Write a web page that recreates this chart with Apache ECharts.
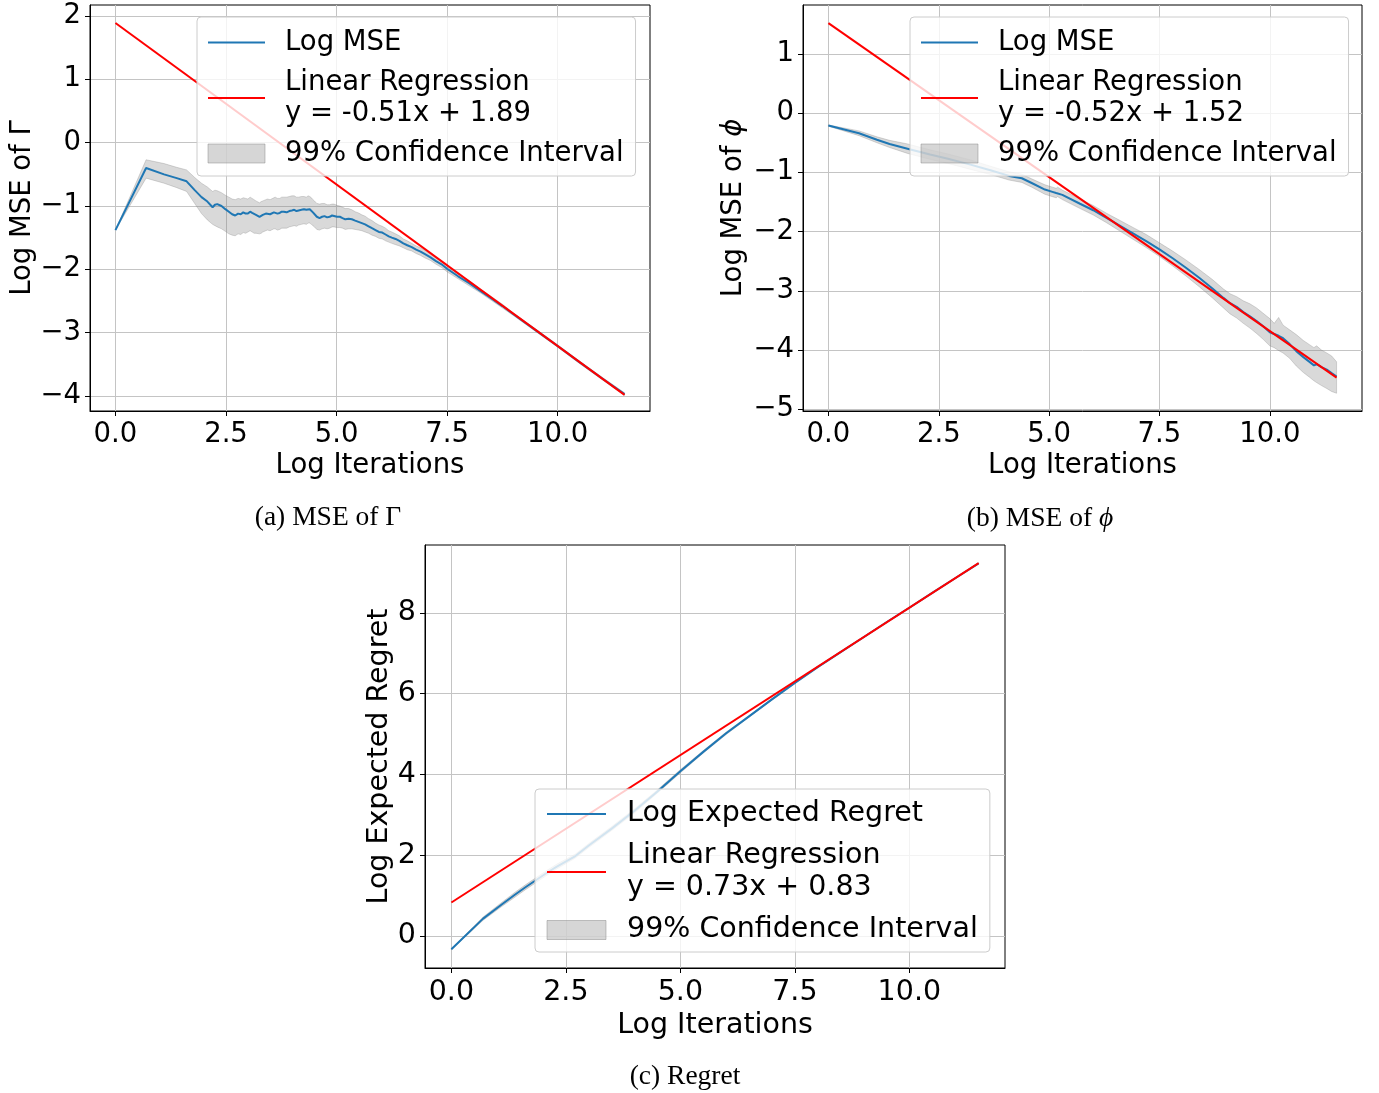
<!DOCTYPE html>
<html>
<head>
<meta charset="utf-8">
<script src="https://cdn.jsdelivr.net/npm/echarts@6/dist/echarts.min.js"></script>
<style>
html,body{margin:0;padding:0;background:#fff;}
#chart{width:1379px;height:1093px;}
</style>
</head>
<body>
<div id="chart"></div>
<script>
// ---------- DATA ----------
const xTicks = [0, 2.5, 5, 7.5, 10];
const yTicksA = [-4, -3, -2, -1, 0, 1, 2];
const yTicksB = [-5, -4, -3, -2, -1, 0, 1];
const yTicksC = [0, 2, 4, 6, 8];

// (a) MSE of Gamma
const gammaX = [0.000,0.693,1.099,1.386,1.609,1.792,1.946,2.079,2.197,2.250,2.303,2.398,2.485,2.565,2.639,2.708,2.773,2.833,2.890,2.944,2.996,3.045,3.091,3.135,3.178,3.258,3.296,3.332,3.401,3.434,3.497,3.526,3.584,3.611,3.664,3.714,3.761,3.807,3.871,3.932,3.989,4.043,4.094,4.143,4.205,4.263,4.317,4.357,4.394,4.431,4.466,4.500,4.554,4.615,4.673,4.727,4.787,4.844,4.898,4.942,5.011,5.075,5.136,5.198,5.273,5.347,5.421,5.497,5.572,5.645,5.724,5.802,5.881,5.958,6.034,6.109,6.180,6.250,6.335,6.420,6.510,6.600,6.700,6.800,6.900,7.000,7.125,7.250,7.375,7.500,7.750,8.000,8.250,8.500,8.750,9.000,9.500,10.000,10.500,11.000,11.513];
const gammaMean = [-1.38,-0.40,-0.50,-0.56,-0.61,-0.75,-0.86,-0.93,-1.02,-0.98,-0.97,-1.00,-1.05,-1.09,-1.13,-1.15,-1.12,-1.13,-1.10,-1.12,-1.12,-1.09,-1.11,-1.13,-1.14,-1.17,-1.15,-1.14,-1.12,-1.11,-1.13,-1.12,-1.10,-1.10,-1.12,-1.11,-1.09,-1.09,-1.10,-1.08,-1.07,-1.06,-1.08,-1.07,-1.06,-1.05,-1.06,-1.04,-1.05,-1.06,-1.10,-1.12,-1.17,-1.19,-1.17,-1.16,-1.18,-1.17,-1.15,-1.15,-1.17,-1.17,-1.19,-1.21,-1.20,-1.21,-1.23,-1.25,-1.27,-1.29,-1.32,-1.35,-1.38,-1.41,-1.42,-1.45,-1.48,-1.50,-1.52,-1.55,-1.59,-1.62,-1.65,-1.69,-1.72,-1.76,-1.81,-1.87,-1.92,-1.99,-2.11,-2.22,-2.34,-2.46,-2.58,-2.71,-2.96,-3.21,-3.47,-3.72,-3.97];
const gammaLo = [-1.38,-0.56,-0.64,-0.71,-0.77,-0.96,-1.12,-1.22,-1.29,-1.31,-1.33,-1.36,-1.40,-1.44,-1.46,-1.47,-1.44,-1.45,-1.42,-1.43,-1.41,-1.39,-1.41,-1.43,-1.43,-1.44,-1.43,-1.41,-1.39,-1.38,-1.39,-1.38,-1.36,-1.36,-1.38,-1.37,-1.35,-1.35,-1.35,-1.33,-1.32,-1.31,-1.32,-1.30,-1.29,-1.28,-1.29,-1.27,-1.27,-1.29,-1.31,-1.33,-1.37,-1.38,-1.36,-1.35,-1.36,-1.35,-1.33,-1.33,-1.34,-1.34,-1.35,-1.37,-1.36,-1.36,-1.37,-1.38,-1.39,-1.41,-1.43,-1.46,-1.48,-1.51,-1.52,-1.55,-1.57,-1.59,-1.61,-1.63,-1.66,-1.69,-1.71,-1.75,-1.78,-1.82,-1.86,-1.92,-1.97,-2.04,-2.15,-2.26,-2.37,-2.49,-2.61,-2.73,-2.98,-3.23,-3.49,-3.74,-3.99];
const gammaHi = [-1.38,-0.27,-0.33,-0.39,-0.43,-0.55,-0.64,-0.70,-0.77,-0.75,-0.76,-0.79,-0.83,-0.86,-0.89,-0.90,-0.88,-0.89,-0.87,-0.88,-0.89,-0.86,-0.88,-0.90,-0.92,-0.95,-0.93,-0.92,-0.90,-0.89,-0.90,-0.89,-0.87,-0.86,-0.88,-0.88,-0.86,-0.86,-0.86,-0.85,-0.84,-0.84,-0.86,-0.86,-0.85,-0.85,-0.86,-0.84,-0.85,-0.87,-0.90,-0.92,-0.96,-0.97,-0.96,-0.96,-0.98,-0.98,-0.97,-0.97,-0.99,-1.00,-1.02,-1.04,-1.04,-1.06,-1.09,-1.11,-1.14,-1.16,-1.20,-1.23,-1.27,-1.30,-1.32,-1.35,-1.39,-1.41,-1.44,-1.47,-1.52,-1.55,-1.59,-1.63,-1.66,-1.70,-1.76,-1.82,-1.87,-1.94,-2.07,-2.18,-2.31,-2.43,-2.55,-2.69,-2.94,-3.19,-3.45,-3.70,-3.95];

// (b) MSE of phi
const phiX = [0.000,0.693,1.099,1.386,1.792,2.303,2.708,3.219,3.689,4.094,4.382,4.605,4.905,5.075,5.160,5.193,5.300,5.700,6.000,6.300,6.600,6.900,7.200,7.500,7.800,8.100,8.400,8.700,8.950,9.100,9.250,9.400,9.550,9.700,9.850,10.000,10.100,10.200,10.300,10.450,10.600,10.760,10.900,11.000,11.060,11.170,11.290,11.400,11.513];
const phiMean = [-0.21,-0.34,-0.45,-0.52,-0.60,-0.70,-0.77,-0.87,-0.97,-1.06,-1.10,-1.18,-1.29,-1.33,-1.35,-1.33,-1.38,-1.53,-1.64,-1.77,-1.90,-2.03,-2.16,-2.30,-2.45,-2.61,-2.78,-2.96,-3.12,-3.21,-3.27,-3.36,-3.43,-3.51,-3.60,-3.70,-3.73,-3.76,-3.80,-3.90,-4.02,-4.12,-4.20,-4.26,-4.24,-4.29,-4.33,-4.39,-4.45];
const phiLo = [-0.22,-0.38,-0.50,-0.58,-0.68,-0.78,-0.85,-0.95,-1.04,-1.13,-1.17,-1.25,-1.37,-1.41,-1.43,-1.41,-1.46,-1.61,-1.72,-1.85,-1.99,-2.13,-2.27,-2.42,-2.58,-2.75,-2.93,-3.12,-3.29,-3.39,-3.46,-3.55,-3.63,-3.72,-3.82,-3.93,-3.96,-4.01,-4.05,-4.14,-4.27,-4.38,-4.46,-4.52,-4.55,-4.60,-4.65,-4.70,-4.73];
const phiHi = [-0.20,-0.30,-0.40,-0.46,-0.52,-0.62,-0.69,-0.79,-0.90,-0.99,-1.03,-1.11,-1.21,-1.25,-1.27,-1.25,-1.30,-1.45,-1.56,-1.69,-1.81,-1.93,-2.05,-2.19,-2.33,-2.48,-2.64,-2.81,-2.97,-3.05,-3.10,-3.17,-3.22,-3.29,-3.38,-3.47,-3.55,-3.45,-3.58,-3.66,-3.74,-3.84,-3.91,-3.96,-3.93,-4.00,-4.05,-4.10,-4.20];

// (c) Regret
const regretX = [0.000,0.693,1.099,1.386,1.609,2.079,2.303,2.708,3.000,3.500,4.000,4.500,5.000,5.500,6.000,6.500,7.000,7.500,8.000,8.500,9.000,9.500,10.000,10.500,11.000,11.513];
const regretMean = [-0.33,0.43,0.78,1.02,1.20,1.56,1.72,1.98,2.24,2.66,3.10,3.58,4.08,4.56,5.02,5.44,5.86,6.27,6.66,7.03,7.40,7.77,8.13,8.50,8.86,9.23];
const regretLo = [-0.34,0.39,0.73,0.96,1.14,1.50,1.66,1.93,2.19,2.61,3.05,3.54,4.04,4.53,4.99,5.42,5.84,6.25,6.65,7.02,7.39,7.76,8.12,8.49,8.85,9.22];
const regretHi = [-0.32,0.47,0.83,1.08,1.26,1.62,1.78,2.03,2.29,2.71,3.15,3.62,4.12,4.59,5.05,5.46,5.88,6.29,6.67,7.04,7.41,7.78,8.14,8.51,8.87,9.24];

// Linear regressions (slope, intercept) as printed in legends
const regSlopes = [-0.51, -0.52, 0.73];
const regIntercepts = [1.89, 1.52, 0.83];
const regXRange = [0, 11.513];
const regLabels = ['Linear Regression\ny = -0.51x + 1.89', 'Linear Regression\ny = -0.52x + 1.52', 'Linear Regression\ny = 0.73x + 0.83'];

// ---------- STYLE ----------
const FONT = '"DejaVu Sans", sans-serif';
const SERIF = '"Liberation Serif", serif';
const BLUE = '#1f77b4', RED = '#ff0000';
const BAND_FILL = 'rgba(128,128,128,0.3)', BAND_EDGE = 'rgba(128,128,128,0.3)';
const GRIDC = '#c4c4c4';
const X_MIN = -0.5757, X_MAX = 12.0887;

function fmtY(v){ return v < 0 ? '\u2212' + Math.abs(v) : String(v); }

function xAxisDef(gi, fs, gap){
  return {
    type:'value', gridIndex:gi, min:X_MIN, max:X_MAX,
    name:'Log Iterations', nameLocation:'middle', nameGap:gap,
    nameTextStyle:{fontSize:fs, fontFamily:FONT, color:'#000'},
    axisLine:{show:true, onZero:false, lineStyle:{color:'#000', width:1}},
    axisTick:{show:true, inside:false, length:5, customValues:xTicks, lineStyle:{color:'#000', width:1}},
    axisLabel:{show:true, customValues:xTicks, margin:10, fontSize:fs, fontFamily:FONT, color:'#000', formatter:v=>v.toFixed(1)},
    splitLine:{show:true, lineStyle:{color:GRIDC, width:1}}
  };
}
function yAxisDef(gi, mn, mx, ticks, name, gap, fs, rich){
  return {
    type:'value', gridIndex:gi, min:mn, max:mx,
    name:name, nameLocation:'middle', nameGap:gap, nameRotate:90,
    nameTextStyle:{fontSize:fs, fontFamily:FONT, color:'#000', rich:rich||{}},
    axisLine:{show:true, onZero:false, lineStyle:{color:'#000', width:1}},
    axisTick:{show:true, inside:false, length:5, customValues:ticks, lineStyle:{color:'#000', width:1}},
    axisLabel:{show:true, customValues:ticks, margin:9, fontSize:fs, fontFamily:FONT, color:'#000', formatter:fmtY},
    splitLine:{show:true, lineStyle:{color:GRIDC, width:1}}
  };
}
function bandSeries(xs, lo, hi, idx){
  return {
    type:'custom', name:'99% Confidence Interval', xAxisIndex:idx, yAxisIndex:idx, z:1, silent:true, clip:true,
    itemStyle:{color:BAND_FILL},
    data: xs.map((x,i)=>[x, lo[i], hi[i]]),
    encode:{x:0, y:[1,2]},
    renderItem:function(params, api){
      if (params.dataIndex !== 0) return null;
      const pts = [];
      for (let i=0;i<xs.length;i++) pts.push(api.coord([xs[i], hi[i]]));
      for (let i=xs.length-1;i>=0;i--) pts.push(api.coord([xs[i], lo[i]]));
      return {type:'polygon', shape:{points:pts}, style:{fill:BAND_FILL, stroke:BAND_EDGE, lineWidth:1}};
    }
  };
}
function meanSeries(name, xs, ys, idx){
  return {type:'line', name:name, xAxisIndex:idx, yAxisIndex:idx, z:2, symbol:'none', showSymbol:false,
    lineStyle:{color:BLUE, width:2}, itemStyle:{color:BLUE}, data: xs.map((x,i)=>[x, ys[i]])};
}
function regSeries(idx){
  const m = regSlopes[idx], b = regIntercepts[idx];
  return {type:'line', name:regLabels[idx], xAxisIndex:idx, yAxisIndex:idx, z:3, symbol:'none', showSymbol:false,
    lineStyle:{color:RED, width:2}, itemStyle:{color:RED},
    data: regXRange.map(x=>[x, m*x + b])};
}
const HIDE_SYMBOL = {color:'rgba(0,0,0,0)', borderColor:'rgba(0,0,0,0)', borderWidth:0};
function legendDef(left, top, firstName, idx, fs, lh, gap, pad, iw, tpad){
  return {
    orient:'vertical', left:left, top:top, z:10, selectedMode:false,
    itemWidth:iw, itemHeight:19, itemGap:gap, padding:pad,
    backgroundColor:'rgba(255,255,255,0.8)', borderColor:'#cccccc', borderWidth:1, borderRadius:4,
    textStyle:{fontSize:fs, fontFamily:FONT, color:'#000', lineHeight:lh, padding:[0,0,0,tpad]},
    data:[
      {name:firstName, itemStyle:HIDE_SYMBOL},
      {name:regLabels[idx], itemStyle:HIDE_SYMBOL},
      {name:'99% Confidence Interval', icon:'rect', itemStyle:{color:'rgba(128,128,128,0.32)', borderColor:'rgba(128,128,128,0.45)', borderWidth:1}}
    ]
  };
}

const chart = echarts.init(document.getElementById('chart'), null, {renderer:'canvas'});
chart.setOption({
  animation:false,
  backgroundColor:'#ffffff',
  grid:[
    {left:90, top:5, width:560, height:406, show:true, borderColor:'#000', borderWidth:1, containLabel:false},
    {left:803, top:5, width:559, height:406, show:true, borderColor:'#000', borderWidth:1, containLabel:false},
    {left:425, top:545, width:580, height:423, show:true, borderColor:'#000', borderWidth:1, containLabel:false}
  ],
  xAxis:[xAxisDef(0, 27.5, 41), xAxisDef(1, 27.5, 41), xAxisDef(2, 28.5, 43)],
  yAxis:[
    yAxisDef(0, -4.237, 2.174, yTicksA, 'Log MSE of Γ', 53, 27.5),
    yAxisDef(1, -5.03, 1.826, yTicksB, 'Log MSE of {i|ϕ}', 55, 27.5, {i:{fontStyle:'italic', fontSize:27.5, fontFamily:FONT, color:'#000'}}),
    yAxisDef(2, -0.793, 9.684, yTicksC, 'Log Expected Regret', 28, 28.5)
  ],
  legend:[
    legendDef(197, 17, 'Log MSE', 0, 27.5, 31, 9, [10,12,7,10], 57, 15),
    legendDef(910, 17, 'Log MSE', 1, 27.5, 31, 9, [10,12,7,10], 57, 15),
    legendDef(535, 789, 'Log Expected Regret', 2, 28.5, 32, 10, [9,12,6,11], 59, 16)
  ],
  series:[
    bandSeries(gammaX, gammaLo, gammaHi, 0),
    meanSeries('Log MSE', gammaX, gammaMean, 0),
    regSeries(0),
    bandSeries(phiX, phiLo, phiHi, 1),
    meanSeries('Log MSE', phiX, phiMean, 1),
    regSeries(1),
    bandSeries(regretX, regretLo, regretHi, 2),
    meanSeries('Log Expected Regret', regretX, regretMean, 2),
    regSeries(2)
  ],
  graphic:[
    {type:'text', x:328, y:518, style:{text:'(a) MSE of Γ', fontSize:27.5, fontFamily:SERIF, fill:'#000', align:'center', verticalAlign:'middle'}},
    {type:'text', x:1040, y:519, style:{text:'(b) MSE of {i|ϕ}', fontSize:27.5, fontFamily:SERIF, fill:'#000', align:'center', verticalAlign:'middle',
      rich:{i:{fontStyle:'italic', fontSize:27.5, fontFamily:SERIF, fill:'#000'}}}},
    {type:'text', x:685, y:1077, style:{text:'(c) Regret', fontSize:27.5, fontFamily:SERIF, fill:'#000', align:'center', verticalAlign:'middle'}}
  ]
});
</script>
</body>
</html>
